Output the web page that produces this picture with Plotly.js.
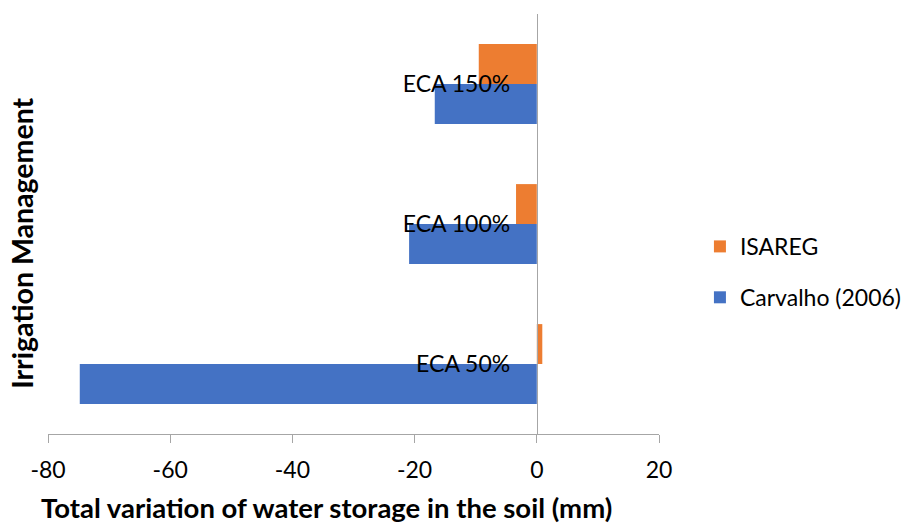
<!DOCTYPE html>
<html>
<head>
<meta charset="utf-8">
<script src="https://cdn.plot.ly/plotly-3.0.1.min.js"></script>
<style>html,body{margin:0;padding:0;background:#fff;}#chart{width:909px;height:525px;}</style>
</head>
<body>
<div id="chart"></div>
<script>
var categories = ['ECA 50%', 'ECA 100%', 'ECA 150%'];
var carvalho = [-74.8, -20.9, -16.7];
var isareg = [0.9, -3.4, -9.5];
var xTicks = [-80, -60, -40, -20, 0, 20];

var font = 'Lato, Carlito, Calibri, sans-serif';

var traces = [
  {type: 'bar', orientation: 'h', name: 'Carvalho (2006)', y: categories, x: carvalho,
   marker: {color: '#4472C4'}, legendgroup: 'b', legendrank: 2},
  {type: 'bar', orientation: 'h', name: 'ISAREG', y: categories, x: isareg,
   marker: {color: '#ED7D31'}, legendgroup: 'a', legendrank: 1}
];

var layout = {
  width: 909, height: 525,
  margin: {l: 48, r: 250, t: 14, b: 91, autoexpand: false},
  paper_bgcolor: '#fff', plot_bgcolor: '#fff',
  font: {family: font, size: 23, color: '#000'},
  barmode: 'group', bargap: 0.43, bargroupgap: 0,
  showlegend: true,
  legend: {xref: 'container', yref: 'container', x: 0.770, y: 0.482, yanchor: 'middle', xanchor: 'left',
           traceorder: 'grouped', tracegroupgap: 18, itemwidth: 30,
           font: {family: font, size: 23, color: '#000'}},
  xaxis: {
    range: [-80, 20], tickvals: xTicks, ticktext: xTicks.map(String),
    showgrid: false, zeroline: false, showline: true, linecolor: '#a6a6a6', linewidth: 1,
    ticks: 'outside', ticklen: 8, tickcolor: '#a6a6a6', ticklabelstandoff: 7,
    tickfont: {family: font, size: 23, color: '#000'}
  },
  yaxis: {
    type: 'category', categoryorder: 'array', categoryarray: categories,
    anchor: 'free', position: 0.8, showgrid: false, zeroline: false,
    showline: true, linecolor: '#a6a6a6', linewidth: 1, ticks: '',
    ticklabelstandoff: 22,
    tickfont: {family: font, size: 23, color: '#000'}
  },
  annotations: [{
    text: '<b>Irrigation Management</b>', xref: 'paper', yref: 'paper',
    x: -0.0425, y: 0.453, xanchor: 'center', yanchor: 'middle', textangle: -90, showarrow: false,
    font: {family: font, size: 28.5, color: '#000'}
  }, {
    text: '<b>Total variation of water storage in the soil (mm)</b>', xref: 'paper', yref: 'paper',
    x: 0.455, y: -0.174, xanchor: 'center', yanchor: 'middle', showarrow: false,
    font: {family: font, size: 27.5, color: '#000'}
  }]
};

Plotly.newPlot('chart', traces, layout, {displayModeBar: false});
</script>
</body>
</html>
